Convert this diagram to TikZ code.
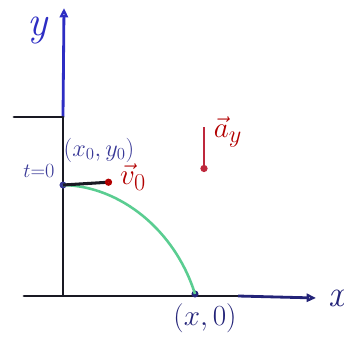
\documentclass[tikz,border=0pt]{standalone}
\usepackage{amsmath,amssymb}
\usetikzlibrary{arrows.meta,calc}

\definecolor{penblue}{RGB}{45,45,195}
\definecolor{pennavy}{RGB}{35,35,120}
\definecolor{pendark}{RGB}{25,25,35}
\definecolor{penred}{RGB}{190,40,60}
\definecolor{pengreen}{RGB}{90,205,145}
\definecolor{labelblue}{RGB}{55,55,150}

\begin{document}
\begin{tikzpicture}[
  x=0.03cm, y=-0.03cm,
  every node/.style={font=\LARGE},
  axis/.style={line width=2.4pt,pendark,line cap=round},
  axisend/.style={line width=2.4pt,-{Triangle[open,length=8pt,width=7pt]}},
  dot/.style={circle,fill=pennavy,inner sep=0pt,minimum size=6pt},
  path/.style={line width=2.2pt,pengreen},
  velocity/.style={line width=2.6pt,pendark,-{Circle[open,red!70!black,length=6pt]}},
  accel/.style={line width=2.2pt,penred,-{Circle[length=6pt]}}
]
\useasboundingbox (0,0) rectangle (344,340);

% ------------------------------------------------------------
% Axes and the top of the cliff
% ------------------------------------------------------------
\coordinate (O) at (63,295);
\coordinate (xL) at (24,296);
\coordinate (xM) at (238,296);
\coordinate (xR) at (316,298);
\coordinate (ledge) at (63,117);
\coordinate (ledgeL) at (14,117);
\coordinate (yTop) at (64,8);

\draw[axis] (xL) -- (xM);
\draw[axisend,pennavy] (xM) -- (xR);
\draw[axis] (O) -- (ledge);
\draw[axisend,penblue] (ledge) -- (yTop);
\draw[axis] (ledgeL) -- (ledge);

\node[pennavy,font=\fontsize{32}{32}\selectfont\itshape] (xlabel) at (337,298) {x};
\node[penblue,font=\fontsize{36}{36}\selectfont\itshape,anchor=base] (ylabel) at (38,36) {y};

% ------------------------------------------------------------
% Launch point, trajectory and landing point
% ------------------------------------------------------------
\node[dot,fill=labelblue] (start) at (63,185) {};
\node[dot] (land) at (195,294) {};

\draw[path] (start.center) .. controls (120,186) and (175,230) .. (land.center);

\node[labelblue,font=\LARGE] (tlabel) at (39,171) {$t{=}0$};
\node[labelblue,font=\huge] (startlabel) at (99,150) {$(x_0,y_0)$};
\node[pennavy,font=\Huge] (landlabel) at (205,318) {$(x,0)$};

% Initial velocity
\coordinate (vtip) at (112,182);
\draw[velocity] (start.center) -- (vtip);
\node[red!70!black,font=\Huge] (vlabel) at (133,177) {$\vec{v}_0$};

% Acceleration
\coordinate (atop) at (204,127);
\coordinate (abot) at (204,172);
\draw[accel] (atop) -- (abot);
\node[red!70!black,font=\Huge] (alabel) at (228,132) {$\vec{a}_y$};

\end{tikzpicture}
\end{document}
